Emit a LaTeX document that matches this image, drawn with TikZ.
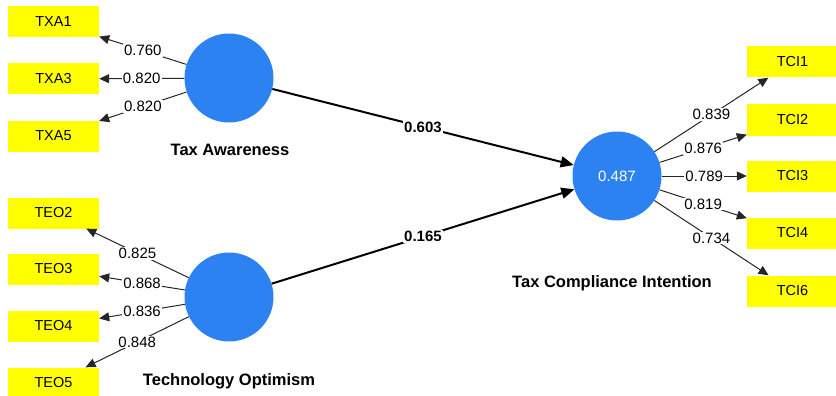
\documentclass[tikz,border=0pt]{standalone}
\usepackage{fontspec}
\setmainfont{Liberation Sans}
\usetikzlibrary{arrows.meta}

\definecolor{lvblue}{RGB}{44,130,240}
\definecolor{indyellow}{RGB}{255,255,0}

\begin{document}
\begin{tikzpicture}[x=1pt,y=-1pt,
  ind/.style={rectangle,fill=indyellow,minimum width=91pt,minimum height=31pt,inner sep=0pt,font=\fontsize{14.5}{17}\selectfont},
  lv/.style={circle,fill=lvblue,minimum size=89pt,inner sep=0pt},
  lvname/.style={anchor=base,font=\fontsize{16.5}{19}\selectfont\bfseries},
  load/.style={draw=black!85,line width=1pt,-{Triangle[length=10pt,width=9pt]}},
  struct/.style={draw=black,line width=2pt,-{Triangle[length=13pt,width=11pt]}},
  coef/.style={fill=white,inner sep=1pt,font=\fontsize{15}{18}\selectfont}]
  \useasboundingbox (0,0) rectangle (836,396);
  % latent variables
  \node[lv] (TA) at (229,78) {};
  \node[lv] (TO) at (229,297) {};
  \node[lv,text=white,font=\fontsize{15}{18}\selectfont] (TCI) at (617,176) {0.487};
  \node[lvname] (TAname) at (230,155) {Tax Awareness};
  \node[lvname] (TOname) at (229,385) {Technology Optimism};
  \node[lvname] (TCIname) at (612,287) {Tax Compliance Intention};
  % indicators
  \node[ind] (TXA1) at (53.5,22) {TXA1};
  \node[ind] (TXA3) at (53.5,79) {TXA3};
  \node[ind] (TXA5) at (53.5,136) {TXA5};
  \node[ind] (TEO2) at (53.5,213) {TEO2};
  \node[ind] (TEO3) at (53.5,269) {TEO3};
  \node[ind] (TEO4) at (53.5,326) {TEO4};
  \node[ind] (TEO5) at (53.5,383) {TEO5};
  \node[ind] (TCI1) at (792.5,62) {TCI1};
  \node[ind] (TCI2) at (792.5,120) {TCI2};
  \node[ind] (TCI3) at (792.5,176) {TCI3};
  \node[ind] (TCI4) at (792.5,233) {TCI4};
  \node[ind] (TCI6) at (792.5,291) {TCI6};
  % outer loadings
  \foreach \ind/\val in {TXA1/0.760,TXA3/0.820,TXA5/0.820}
    \draw[load] (TA) -- (\ind) node[coef,midway] {\val};
  \foreach \ind/\val in {TEO2/0.825,TEO3/0.868,TEO4/0.836,TEO5/0.848}
    \draw[load] (TO) -- (\ind) node[coef,midway] {\val};
  \foreach \ind/\val in {TCI1/0.839,TCI2/0.876,TCI3/0.789,TCI4/0.819,TCI6/0.734}
    \draw[load] (TCI) -- (\ind) node[coef,midway] {\val};
  % path coefficients
  \draw[struct] (TA) -- (TCI) node[coef,midway,font=\fontsize{15}{18}\selectfont\bfseries] {0.603};
  \draw[struct] (TO) -- (TCI) node[coef,midway,font=\fontsize{15}{18}\selectfont\bfseries] {0.165};
\end{tikzpicture}
\end{document}
